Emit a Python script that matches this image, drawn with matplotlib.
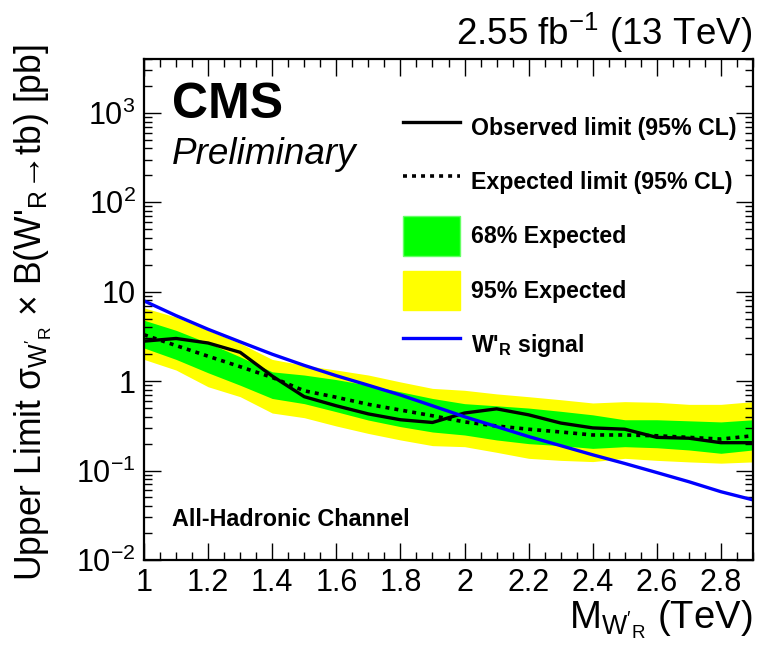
import matplotlib
matplotlib.use("Agg")
import matplotlib.pyplot as plt
from matplotlib.lines import Line2D
from matplotlib.patches import Patch
from matplotlib.ticker import FixedLocator, MultipleLocator, FuncFormatter, NullFormatter

plt.rcParams["font.family"] = ["Liberation Sans", "DejaVu Sans"]
plt.rcParams["mathtext.fontset"] = "custom"
plt.rcParams["mathtext.rm"] = "Liberation Sans"
plt.rcParams["mathtext.it"] = "Liberation Sans:italic"
plt.rcParams["mathtext.bf"] = "Liberation Sans:bold"

# W'_R mass points (TeV)
mass = [1.0, 1.1, 1.2, 1.3, 1.4, 1.5, 1.6, 1.7, 1.8, 1.9,
        2.0, 2.1, 2.2, 2.3, 2.4, 2.5, 2.6, 2.7, 2.8, 2.9]

# limits in pb
observed = [2.8, 3.0, 2.67, 2.1, 1.14, 0.67, 0.53, 0.43, 0.37, 0.345,
            0.44, 0.49, 0.42, 0.34, 0.30, 0.29, 0.235, 0.23, 0.205, 0.205]
expected = [3.3, 2.5, 1.9, 1.45, 1.1, 0.78, 0.66, 0.55, 0.475, 0.41,
            0.35, 0.315, 0.29, 0.27, 0.25, 0.25, 0.245, 0.235, 0.225, 0.245]
band68_hi = [4.8, 3.7, 2.67, 1.87, 1.27, 1.17, 1.04, 0.90, 0.76, 0.64,
             0.56, 0.53, 0.50, 0.46, 0.42, 0.37, 0.37, 0.36, 0.35, 0.37]
band68_lo = [2.35, 1.75, 1.24, 0.90, 0.64, 0.56, 0.455, 0.367, 0.31, 0.27,
             0.25, 0.22, 0.20, 0.19, 0.177, 0.185, 0.18, 0.17, 0.156, 0.17]
band95_hi = [6.6, 5.2, 3.7, 2.65, 1.75, 1.5, 1.33, 1.17, 0.98, 0.83,
             0.79, 0.72, 0.67, 0.62, 0.57, 0.59, 0.58, 0.55, 0.55, 0.59]
band95_lo = [1.75, 1.33, 0.865, 0.67, 0.44, 0.39, 0.315, 0.26, 0.22, 0.19,
             0.185, 0.16, 0.137, 0.13, 0.126, 0.137, 0.13, 0.125, 0.121, 0.125]
signal = [7.9, 5.4, 3.8, 2.75, 2.0, 1.5, 1.15, 0.9, 0.70, 0.53,
          0.40, 0.31, 0.24, 0.19, 0.15, 0.12, 0.095, 0.075, 0.058, 0.047]

x_ticks = [1.0, 1.2, 1.4, 1.6, 1.8, 2.0, 2.2, 2.4, 2.6, 2.8]
y_ticks = [1e-2, 1e-1, 1, 10, 1e2, 1e3]
y_ticklabels = [r"$10^{-2}$", r"$10^{-1}$", "1", "10", r"$10^{2}$", r"$10^{3}$"]

W, H = 758, 645
fig = plt.figure(figsize=(W / 100, H / 100), dpi=100)
ax = fig.add_axes([144 / W, 1 - 560 / H, 609 / W, 501 / H])

ax.fill_between(mass, band95_lo, band95_hi, color="#ffff00", lw=0)
ax.fill_between(mass, band68_lo, band68_hi, color="#00ff00", lw=0)
ax.plot(mass, expected, color="black", lw=2.6, dashes=(1.1, 1.4))
ax.plot(mass, observed, color="black", lw=2.4)
ax.plot(mass, signal, color="#0000ff", lw=2.4)

ax.set_yscale("log")
ax.set_xlim(1.0, 2.9)
ax.set_ylim(0.01, 4000)

ax.xaxis.set_major_locator(FixedLocator(x_ticks))
ax.xaxis.set_minor_locator(MultipleLocator(0.05))
ax.xaxis.set_major_formatter(FuncFormatter(lambda v, p: "%g" % v))
ax.yaxis.set_major_locator(FixedLocator(y_ticks))
ax.set_yticklabels(y_ticklabels)
ax.yaxis.set_minor_formatter(NullFormatter())
ax.tick_params(which="both", direction="in", top=True, right=True, width=1.0,
               labelsize=22)
ax.tick_params(which="major", length=12)
ax.tick_params(which="minor", length=6)
ax.tick_params(axis="x", pad=6)
ax.tick_params(axis="y", pad=6)
for s in ax.spines.values():
    s.set_linewidth(1.6)

handles = [
    Line2D([], [], color="black", lw=2.4),
    Line2D([], [], color="black", lw=2.6, dashes=(1.1, 1.4)),
    Patch(facecolor="#00ff00", edgecolor="#66ff66"),
    Patch(facecolor="#ffff00", edgecolor="#ffff00"),
    Line2D([], [], color="#0000ff", lw=2.4),
]
labels = ["Observed limit (95% CL)", "Expected limit (95% CL)",
          "68% Expected", "95% Expected", r"W'$_\mathbf{R}$ signal"]
ax.legend(handles, labels, loc="upper left",
          bbox_to_anchor=((403 - 144) / 609, (560 - 108) / 501),
          frameon=False, borderpad=0, borderaxespad=0,
          handlelength=2.46, handleheight=2.25, handletextpad=0.47,
          labelspacing=0.63, prop={"weight": "bold", "size": 16.7})

fig.text(172 / W, 1 - 118 / H, "CMS", fontsize=36, fontweight="bold",
         va="baseline", ha="left")
fig.text(172 / W, 1 - 164 / H, "Preliminary", fontsize=26.6, style="italic",
         va="baseline", ha="left")
fig.text(172 / W, 1 - 526 / H, "All-Hadronic Channel", fontsize=16.8,
         fontweight="bold", va="baseline", ha="left")
fig.text(752 / W, 1 - 45 / H, r"2.55 fb$^{-1}$ (13 TeV)", fontsize=26.5,
         va="baseline", ha="right")
fig.text(752 / W, 1 - 628 / H, r"M$_{\mathrm{W'_R}}$ (TeV)", fontsize=27.5,
         va="baseline", ha="right")
fig.text(33 / W, 1 - 44 / H,
         r"Upper Limit σ$_{\mathrm{W'_R}}$ × B(W'$_{\mathrm{R}}$→tb) [pb]",
         fontsize=25.6, rotation=90, va="top", ha="center")

fig.savefig("out.png", dpi=100)
